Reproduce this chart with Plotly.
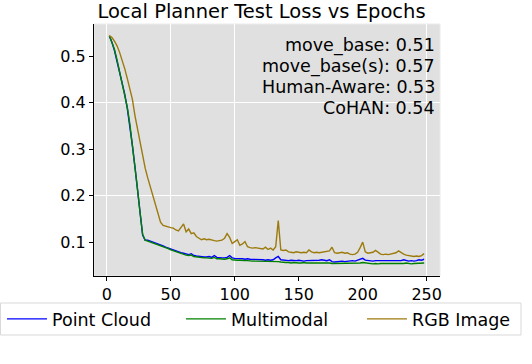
import plotly.graph_objects as go

# epochs (x values), one point every 2 epochs
epochs = list(range(2, 249, 2))

point_cloud = [
    0.543, 0.530, 0.512, 0.490, 0.465, 0.443, 0.418, 0.388, 0.352, 0.308,
    0.262, 0.212, 0.160, 0.115, 0.104, 0.104, 0.102, 0.100, 0.099, 0.096,
    0.094, 0.092, 0.089, 0.087, 0.085, 0.082, 0.080, 0.078, 0.077, 0.076,
    0.074, 0.073, 0.075, 0.071, 0.070, 0.069, 0.069, 0.068, 0.068, 0.069,
    0.067, 0.071, 0.067, 0.066, 0.066, 0.066, 0.067, 0.071, 0.066, 0.065,
    0.065, 0.064, 0.064, 0.063, 0.064, 0.063, 0.063, 0.062, 0.062, 0.063,
    0.062, 0.061, 0.062, 0.061, 0.062, 0.066, 0.069, 0.062, 0.061, 0.060,
    0.060, 0.061, 0.060, 0.060, 0.061, 0.060, 0.059, 0.060, 0.060, 0.061,
    0.060, 0.060, 0.061, 0.062, 0.061, 0.060, 0.062, 0.058, 0.057, 0.058,
    0.059, 0.059, 0.058, 0.059, 0.059, 0.060, 0.059, 0.061, 0.064, 0.065,
    0.061, 0.060, 0.060, 0.059, 0.060, 0.060, 0.059, 0.060, 0.060, 0.059,
    0.060, 0.059, 0.060, 0.059, 0.060, 0.062, 0.060, 0.059, 0.060, 0.059,
    0.060, 0.062, 0.061, 0.063,
]

multimodal = [
    0.544, 0.531, 0.514, 0.492, 0.467, 0.445, 0.420, 0.390, 0.354, 0.310,
    0.264, 0.214, 0.163, 0.117, 0.104, 0.102, 0.101, 0.099, 0.097, 0.095,
    0.093, 0.091, 0.088, 0.086, 0.083, 0.081, 0.079, 0.077, 0.075, 0.074,
    0.072, 0.071, 0.072, 0.069, 0.068, 0.067, 0.066, 0.066, 0.066, 0.065,
    0.065, 0.067, 0.064, 0.064, 0.063, 0.063, 0.064, 0.066, 0.062, 0.061,
    0.061, 0.061, 0.060, 0.060, 0.060, 0.059, 0.059, 0.059, 0.059, 0.058,
    0.058, 0.058, 0.058, 0.058, 0.058, 0.059, 0.058, 0.057, 0.056, 0.056,
    0.056, 0.055, 0.056, 0.055, 0.055, 0.055, 0.056, 0.055, 0.055, 0.056,
    0.055, 0.055, 0.056, 0.055, 0.055, 0.056, 0.055, 0.054, 0.054, 0.055,
    0.055, 0.054, 0.055, 0.054, 0.054, 0.055, 0.055, 0.054, 0.055, 0.056,
    0.055, 0.054, 0.054, 0.053, 0.054, 0.053, 0.054, 0.054, 0.053, 0.054,
    0.054, 0.053, 0.054, 0.054, 0.053, 0.054, 0.055, 0.054, 0.053, 0.054,
    0.054, 0.055, 0.055, 0.055,
]

rgb_image = [
    0.544, 0.540, 0.532, 0.522, 0.508, 0.492, 0.473, 0.452, 0.430, 0.407,
    0.372, 0.343, 0.314, 0.286, 0.259, 0.238, 0.218, 0.198, 0.180, 0.160,
    0.143, 0.136, 0.134, 0.133, 0.131, 0.130, 0.126, 0.124, 0.133, 0.139,
    0.122, 0.128, 0.118, 0.120, 0.112, 0.108, 0.105, 0.107, 0.105, 0.106,
    0.104, 0.103, 0.102, 0.103, 0.104, 0.108, 0.118, 0.110, 0.097, 0.101,
    0.105, 0.093, 0.096, 0.101, 0.090, 0.088, 0.087, 0.088, 0.087, 0.086,
    0.085, 0.089, 0.084, 0.087, 0.083, 0.090, 0.146, 0.083, 0.082, 0.083,
    0.079, 0.078, 0.077, 0.079, 0.078, 0.077, 0.078, 0.077, 0.083, 0.079,
    0.077, 0.078, 0.077, 0.078, 0.079, 0.080, 0.081, 0.089, 0.077, 0.076,
    0.077, 0.078, 0.076, 0.077, 0.074, 0.073, 0.074, 0.078, 0.088, 0.100,
    0.079, 0.076, 0.077, 0.078, 0.082, 0.078, 0.074, 0.073, 0.074, 0.073,
    0.074, 0.075, 0.077, 0.081, 0.077, 0.074, 0.072, 0.071, 0.070, 0.069,
    0.070, 0.069, 0.071, 0.075,
]

series = [
    ("Point Cloud", point_cloud, "#0000ff"),
    ("Multimodal", multimodal, "#008000"),
    ("RGB Image", rgb_image, "#9c7a0c"),
]

planner_labels = ["move_base", "move_base(s)", "Human-Aware", "CoHAN"]
planner_scores = [0.51, 0.57, 0.53, 0.54]

x_ticks = [0, 50, 100, 150, 200, 250]
y_ticks = [0.1, 0.2, 0.3, 0.4, 0.5]

FONT = "DejaVu Sans"
W, H = 532, 364
ML, MR, MT, MB = 94, 92, 24, 88
PW, PH = W - ML - MR, H - MT - MB
x_range = [-10, 260.4]
y_range = [0.027, 0.569]

fig = go.Figure()
legend_ids = ["legend", "legend2", "legend3"]
for (name, vals, color), lg in zip(series, legend_ids):
    fig.add_trace(go.Scatter(
        x=epochs, y=vals, name=name, mode="lines",
        line=dict(color=color, width=1.4), legend=lg,
    ))

# empty trace so the overlay grid axes get drawn
fig.add_trace(go.Scatter(x=[], y=[], xaxis="x2", yaxis="y2",
                         showlegend=False, hoverinfo="skip"))

for i, (n, v) in enumerate(zip(planner_labels, planner_scores)):
    fig.add_annotation(
        text=f"{n}: {v:.2f}", xref="paper", yref="paper",
        x=(437 - ML) / PW, y=(MT + PH - 33) / PH, yshift=-21 * i,
        xanchor="right", yanchor="top", align="right", showarrow=False,
        font=dict(family=FONT, size=17.5, color="black"),
    )

# light frame around the axes area
fig.add_shape(type="rect", xref="paper", yref="paper", x0=0, y0=0, x1=1, y1=1,
              line=dict(color="#ebebeb", width=1), layer="below")
# box around the three legend entries
fig.add_shape(type="rect", xref="paper", yref="paper",
              x0=(0.5 - ML) / PW, x1=(521 - ML) / PW,
              y0=(MT + PH - 335) / PH, y1=(MT + PH - 303) / PH,
              line=dict(color="#d9d9d9", width=1), fillcolor="rgba(0,0,0,0)")

leg_common = dict(orientation="h", xref="container", yref="container",
                  xanchor="left", yanchor="middle", y=1 - 319 / H,
                  bgcolor="rgba(0,0,0,0)", borderwidth=0, itemwidth=40,
                  font=dict(family=FONT, size=17.5))

fig.update_layout(
    width=W, height=H,
    margin=dict(l=ML, r=MR, t=MT, b=MB, autoexpand=False),
    paper_bgcolor="white", plot_bgcolor="#e0e0e0",
    font=dict(family=FONT, size=16, color="black"),
    title=dict(text="Local Planner Test Loss vs Epochs", x=261.5 / W, xref="container",
               y=1 - 4 / H, yref="container", xanchor="center", yanchor="top",
               pad=dict(t=0, b=0), font=dict(family=FONT, size=19.5)),
    showlegend=True,
    legend=dict(leg_common, x=2 / W),
    legend2=dict(leg_common, x=181 / W),
    legend3=dict(leg_common, x=362 / W),
    xaxis=dict(range=x_range, tickvals=x_ticks, showgrid=False, zeroline=False,
               showline=True, linecolor="black", linewidth=1,
               ticks="outside", ticklen=4, tickcolor="black"),
    yaxis=dict(range=y_range, tickvals=y_ticks, tickformat=".1f", showgrid=False,
               zeroline=False, showline=True, linecolor="black", linewidth=1,
               ticks="outside", ticklen=4, tickcolor="black"),
    # overlay axes used only for the sparse white grid
    xaxis2=dict(range=x_range, overlaying="x", anchor="y2", tickvals=[0, 50, 100, 250],
                showgrid=True, gridcolor="white", gridwidth=1, showticklabels=False,
                ticks="", zeroline=False, showline=False),
    yaxis2=dict(range=y_range, overlaying="y", anchor="x2", tickvals=[0.2, 0.4],
                showgrid=True, gridcolor="white", gridwidth=1, showticklabels=False,
                ticks="", zeroline=False, showline=False),
)

# drop the default page margin so the figure sits at the window corner
fig.write_html("out.html", config={"displayModeBar": False},
               post_script="document.body.style.margin = '0';")
